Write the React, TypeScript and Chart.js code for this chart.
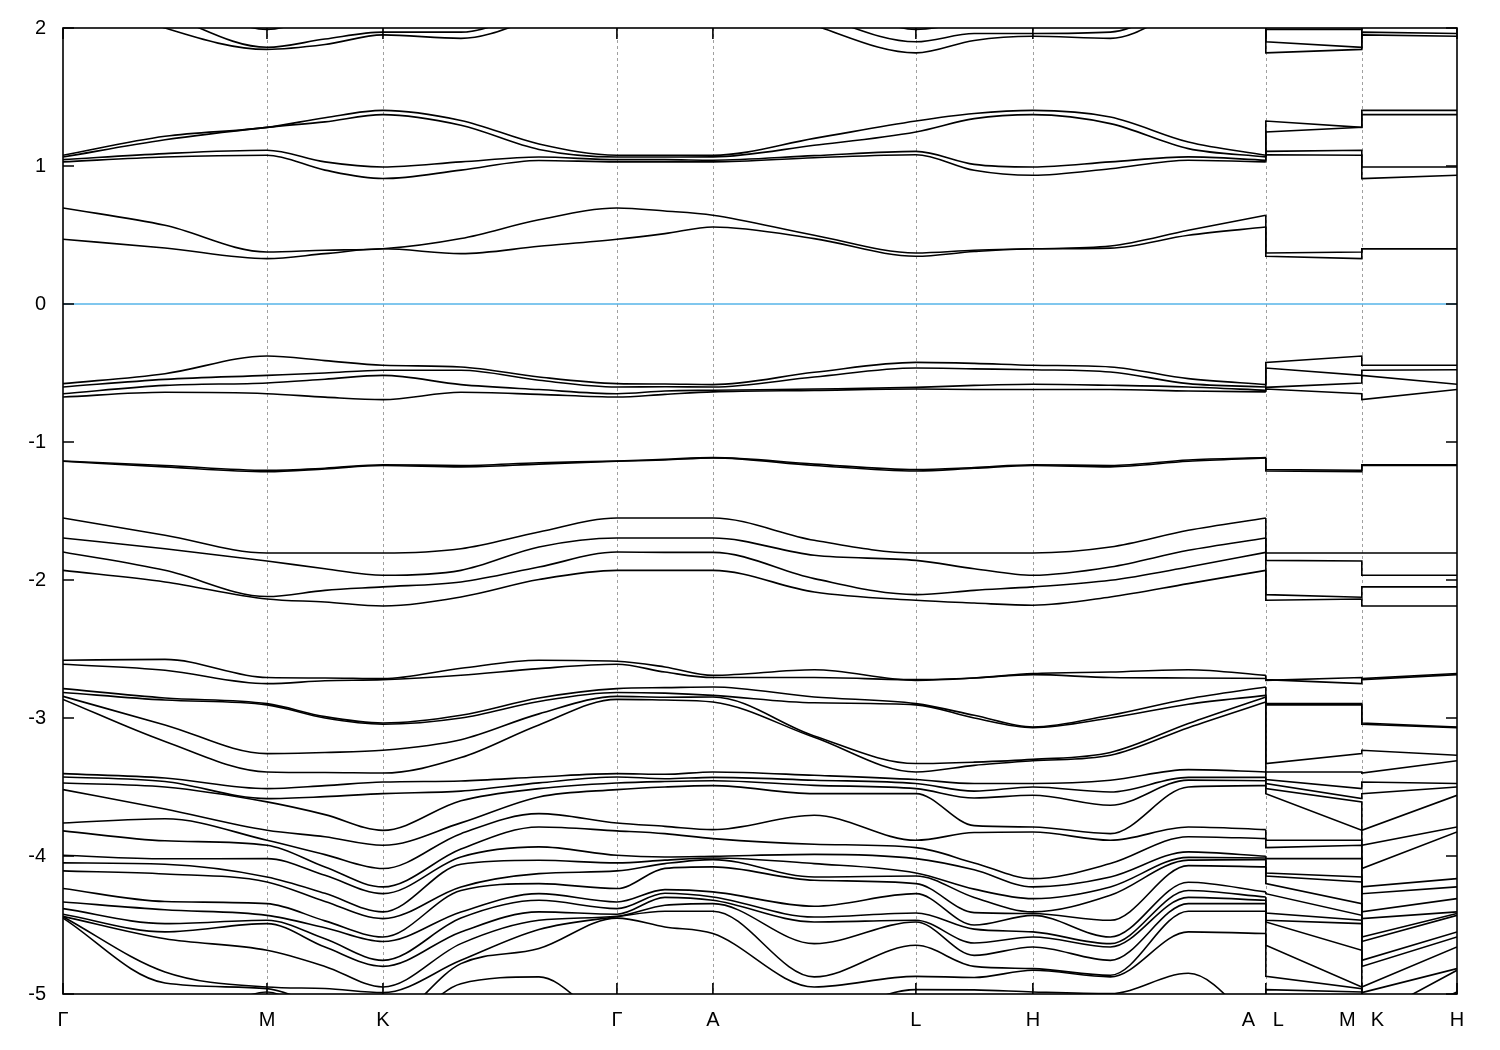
import React, { useEffect, useRef } from "react";
import { Chart, registerables } from "chart.js";

Chart.register(...registerables);

// k-path coordinate of each sampled node: Γ, ·, M, ·, K, ·, ·, Γ, ·, A, ·, L, ·, H, ·, ·, A | L, M | K, H
const K_PATH = [0, 102, 204, 262, 320, 398, 476, 554, 602, 650, 751.3, 853, 911.3, 970, 1047.5, 1125.5, 1203, 1203, 1299, 1299, 1394.2];
const SYMMETRY_LINES = [204, 320, 554, 650, 853, 970, 1203, 1299];
const FRAME_TICKS = [0, 204, 320, 554, 650, 853, 970, 1203, 1299, 1394.2];
const LABEL_POS = [0, 204, 320, 554, 650, 853, 970, 1185.5, 1215.5, 1284.5, 1314.5, 1394.2];
const LABEL_TEXT = ["Γ", "M", "K", "Γ", "A", "L", "H", "A", "L", "M", "K", "H"];
const Y_TICKS = [-5, -4, -3, -2, -1, 0, 1, 2];
const X_MAX = 1394.2;

// conduction bands (eV), one value per node
const BAND_T3 = [2.6, 2.3, 1.99, 2.1, 2.2, 2.3, 2.5, 2.6, 2.6, 2.6, 2.3, 1.99, 2.05, 2.1, 2.2, 2.4, 2.6, 1.99, 1.99, 2.2, 2.1];
const BAND_T2 = [2.35, 2.1, 1.86, 1.92, 1.97, 1.97, 2.15, 2.35, 2.4, 2.35, 2.1, 1.9, 1.96, 1.96, 1.97, 2.2, 2.35, 1.9, 1.86, 1.97, 1.96];
const BAND_T1 = [2.3, 2.0, 1.845, 1.88, 1.95, 1.925, 2.08, 2.3, 2.35, 2.3, 2.02, 1.82, 1.91, 1.94, 1.925, 2.15, 2.3, 1.82, 1.845, 1.95, 1.94];
const BAND_CA = [1.078, 1.215, 1.28, 1.35, 1.403, 1.33, 1.16, 1.078, 1.078, 1.078, 1.2, 1.326, 1.38, 1.403, 1.355, 1.174, 1.078, 1.326, 1.28, 1.403, 1.403];
const BAND_CB = [1.065, 1.19, 1.28, 1.32, 1.372, 1.295, 1.12, 1.065, 1.065, 1.066, 1.15, 1.247, 1.343, 1.372, 1.307, 1.126, 1.066, 1.247, 1.28, 1.372, 1.372];
const BAND_CC = [1.046, 1.09, 1.114, 1.03, 0.993, 1.03, 1.065, 1.046, 1.046, 1.042, 1.075, 1.106, 1.012, 0.993, 1.03, 1.066, 1.042, 1.106, 1.114, 0.993, 0.993];
const BAND_CD = [1.03, 1.065, 1.078, 0.97, 0.909, 0.97, 1.04, 1.03, 1.03, 1.03, 1.06, 1.082, 0.969, 0.933, 0.98, 1.042, 1.03, 1.082, 1.078, 0.909, 0.933];
const BAND_VA = [0.696, 0.57, 0.377, 0.39, 0.4, 0.474, 0.61, 0.696, 0.674, 0.643, 0.498, 0.37, 0.39, 0.4, 0.42, 0.534, 0.643, 0.37, 0.377, 0.4, 0.4];
const BAND_VB = [0.469, 0.406, 0.329, 0.365, 0.4, 0.365, 0.418, 0.469, 0.51, 0.558, 0.474, 0.346, 0.38, 0.4, 0.405, 0.498, 0.558, 0.346, 0.329, 0.4, 0.4];

// valence bands (eV)
const BAND_W1 = [-0.577, -0.505, -0.377, -0.41, -0.444, -0.456, -0.529, -0.577, -0.58, -0.584, -0.495, -0.423, -0.43, -0.444, -0.456, -0.541, -0.584, -0.423, -0.377, -0.444, -0.444];
const BAND_W2 = [-0.601, -0.546, -0.517, -0.5, -0.48, -0.48, -0.553, -0.601, -0.6, -0.601, -0.529, -0.464, -0.47, -0.476, -0.493, -0.577, -0.601, -0.464, -0.517, -0.48, -0.476];
const BAND_W3 = [-0.65, -0.59, -0.572, -0.545, -0.517, -0.584, -0.62, -0.65, -0.63, -0.625, -0.616, -0.604, -0.59, -0.582, -0.589, -0.601, -0.625, -0.604, -0.572, -0.517, -0.582];
const BAND_W4 = [-0.674, -0.64, -0.65, -0.675, -0.693, -0.64, -0.655, -0.674, -0.655, -0.637, -0.626, -0.616, -0.62, -0.62, -0.62, -0.63, -0.637, -0.616, -0.65, -0.693, -0.62];
const BAND_U1 = [-1.138, -1.17, -1.205, -1.19, -1.165, -1.17, -1.15, -1.138, -1.125, -1.113, -1.16, -1.2, -1.185, -1.165, -1.17, -1.13, -1.113, -1.2, -1.205, -1.165, -1.165];
const BAND_U2 = [-1.14, -1.18, -1.215, -1.195, -1.17, -1.18, -1.16, -1.14, -1.13, -1.115, -1.17, -1.21, -1.19, -1.17, -1.18, -1.14, -1.115, -1.21, -1.215, -1.17, -1.17];
const BAND_A1 = [-1.551, -1.676, -1.804, -1.804, -1.804, -1.773, -1.652, -1.551, -1.551, -1.551, -1.712, -1.804, -1.804, -1.804, -1.761, -1.64, -1.551, -1.804, -1.804, -1.804, -1.804];
const BAND_A2 = [-1.696, -1.773, -1.862, -1.918, -1.966, -1.93, -1.761, -1.696, -1.696, -1.696, -1.821, -1.858, -1.918, -1.966, -1.906, -1.785, -1.696, -1.858, -1.862, -1.966, -1.966];
const BAND_A3 = [-1.797, -1.93, -2.12, -2.075, -2.05, -2.014, -1.906, -1.797, -1.8, -1.8, -1.99, -2.106, -2.075, -2.05, -2.002, -1.906, -1.8, -2.106, -2.125, -2.05, -2.05];
const BAND_A4 = [-1.93, -2.014, -2.138, -2.159, -2.188, -2.123, -1.997, -1.93, -1.93, -1.93, -2.087, -2.147, -2.167, -2.183, -2.123, -2.026, -1.93, -2.147, -2.138, -2.188, -2.188];
const BAND_B1 = [-2.582, -2.575, -2.707, -2.71, -2.715, -2.64, -2.582, -2.589, -2.63, -2.691, -2.65, -2.727, -2.71, -2.678, -2.667, -2.65, -2.691, -2.727, -2.707, -2.715, -2.678];
const BAND_B2 = [-2.611, -2.654, -2.751, -2.73, -2.722, -2.69, -2.642, -2.611, -2.667, -2.707, -2.707, -2.722, -2.71, -2.686, -2.707, -2.71, -2.714, -2.722, -2.751, -2.722, -2.686];
const BAND_D1 = [-2.787, -2.855, -2.896, -2.99, -3.036, -2.98, -2.855, -2.787, -2.78, -2.775, -2.848, -2.896, -2.98, -3.065, -2.98, -2.86, -2.775, -2.896, -2.896, -3.036, -3.065];
const BAND_D2 = [-2.815, -2.87, -2.905, -3.0, -3.045, -3.0, -2.88, -2.815, -2.82, -2.836, -2.89, -2.905, -3.0, -3.07, -3.0, -2.9, -2.836, -2.905, -2.905, -3.045, -3.07];
const BAND_D3 = [-2.843, -3.05, -3.258, -3.25, -3.234, -3.157, -2.97, -2.843, -2.85, -2.848, -3.13, -3.33, -3.32, -3.3, -3.25, -3.04, -2.848, -3.33, -3.258, -3.234, -3.27];
const BAND_D4 = [-2.865, -3.17, -3.391, -3.395, -3.399, -3.287, -3.05, -2.865, -2.87, -2.884, -3.14, -3.391, -3.343, -3.31, -3.27, -3.07, -2.884, -3.391, -3.391, -3.399, -3.31];

// deep valence manifold: sorted eigenvalues (eV) at each sampled node
const DEEP_N0 = [-3.403, -3.427, -3.471, -3.519, -3.761, -3.818, -3.995, -4.05, -4.108, -4.236, -4.333, -4.381, -4.422, -4.437, -4.44, -4.45, -5.2, -5.4];
const DEEP_N1 = [-3.435, -3.46, -3.5, -3.66, -3.73, -3.89, -4.02, -4.06, -4.13, -4.33, -4.39, -4.49, -4.55, -4.6, -4.84, -4.92, -5.3, -5.5];
const DEEP_N2 = [-3.512, -3.584, -3.608, -3.814, -3.886, -3.922, -4.019, -4.152, -4.188, -4.345, -4.43, -4.466, -4.49, -4.683, -4.949, -4.961, -4.985, -5.3];
const DEEP_N3 = [-3.49, -3.57, -3.7, -3.86, -3.99, -4.08, -4.14, -4.27, -4.33, -4.47, -4.52, -4.6, -4.66, -4.8, -4.96, -5.1, -5.2, -5.35];
const DEEP_N4 = [-3.464, -3.548, -3.814, -3.922, -4.091, -4.224, -4.273, -4.405, -4.454, -4.587, -4.62, -4.756, -4.8, -4.949, -4.99, -5.2, -5.3, -5.4];
const DEEP_N5 = [-3.456, -3.53, -3.6, -3.76, -3.838, -3.95, -4.007, -4.06, -4.224, -4.25, -4.405, -4.45, -4.55, -4.635, -4.756, -4.78, -4.925, -5.3];
const DEEP_N6 = [-3.427, -3.47, -3.512, -3.572, -3.693, -3.79, -3.934, -4.031, -4.128, -4.2, -4.273, -4.321, -4.405, -4.466, -4.533, -4.671, -4.876, -5.3];
const DEEP_N8 = [-3.408, -3.44, -3.46, -3.5, -3.785, -3.838, -4.007, -4.03, -4.055, -4.09, -4.244, -4.27, -4.3, -4.357, -4.4, -4.514, -5.2, -5.4];
const DEEP_N9 = [-3.391, -3.43, -3.455, -3.49, -3.809, -3.874, -4.002, -4.014, -4.026, -4.079, -4.26, -4.297, -4.321, -4.345, -4.4, -4.562, -5.3, -5.5];
const DEEP_N10 = [-3.415, -3.451, -3.488, -3.548, -3.705, -3.915, -3.988, -4.055, -4.152, -4.176, -4.364, -4.442, -4.478, -4.635, -4.876, -4.949, -5.2, -5.4];
const DEEP_N11 = [-3.446, -3.475, -3.512, -3.548, -3.886, -3.939, -4.019, -4.123, -4.145, -4.2, -4.273, -4.413, -4.466, -4.478, -4.647, -4.872, -4.968, -5.3];
const DEEP_N12 = [-3.475, -3.53, -3.58, -3.78, -3.83, -4.05, -4.1, -4.24, -4.3, -4.41, -4.5, -4.53, -4.63, -4.72, -4.8, -4.88, -4.97, -5.3];
const DEEP_N13 = [-3.475, -3.5, -3.56, -3.79, -3.826, -4.164, -4.224, -4.309, -4.405, -4.417, -4.43, -4.55, -4.587, -4.659, -4.816, -4.828, -4.985, -5.3];
const DEEP_N14 = [-3.451, -3.536, -3.632, -3.838, -3.886, -4.055, -4.152, -4.224, -4.285, -4.466, -4.587, -4.635, -4.659, -4.756, -4.864, -4.876, -4.997, -5.3];
const DEEP_N15 = [-3.374, -3.43, -3.45, -3.5, -3.79, -3.86, -3.97, -4.01, -4.03, -4.07, -4.19, -4.25, -4.3, -4.345, -4.4, -4.55, -4.85, -5.2];

const UPPER_BANDS = [
  BAND_T3, BAND_T2, BAND_T1, BAND_CA, BAND_CB, BAND_CC, BAND_CD, BAND_VA, BAND_VB,
  BAND_W1, BAND_W2, BAND_W3, BAND_W4, BAND_U1, BAND_U2, BAND_A1, BAND_A2, BAND_A3, BAND_A4,
  BAND_B1, BAND_B2, BAND_D1, BAND_D2, BAND_D3, BAND_D4,
];
// node order along the path (Γ reused, A/L/M/K/H repeated after the path breaks)
const DEEP_NODES = [
  DEEP_N0, DEEP_N1, DEEP_N2, DEEP_N3, DEEP_N4, DEEP_N5, DEEP_N6, DEEP_N0, DEEP_N8, DEEP_N9,
  DEEP_N10, DEEP_N11, DEEP_N12, DEEP_N13, DEEP_N14, DEEP_N15, DEEP_N9, DEEP_N11, DEEP_N2, DEEP_N4, DEEP_N13,
];

const FONT = { family: "'Liberation Sans', Arial, sans-serif", size: 20 };

const framePlugin = {
  id: "bandFrame",
  beforeDatasetsDraw(chart: any) {
    const { ctx, chartArea, scales } = chart;
    const { top, bottom } = chartArea;
    ctx.save();
    ctx.strokeStyle = "#a0a0a0";
    ctx.lineWidth = 1;
    ctx.setLineDash([3, 3]);
    SYMMETRY_LINES.forEach((v) => {
      const px = Math.round(scales.x.getPixelForValue(v)) + 0.5;
      ctx.beginPath();
      ctx.moveTo(px, top);
      ctx.lineTo(px, bottom);
      ctx.stroke();
    });
    ctx.restore();
  },
  afterDatasetsDraw(chart: any) {
    const { ctx, chartArea, scales } = chart;
    const { left, right, top, bottom } = chartArea;
    ctx.save();
    ctx.strokeStyle = "#000";
    ctx.lineWidth = 1.6;
    ctx.setLineDash([]);
    ctx.strokeRect(left, top, right - left, bottom - top);
    const len = 11;
    ctx.beginPath();
    Y_TICKS.forEach((v) => {
      const py = scales.y.getPixelForValue(v);
      ctx.moveTo(left, py);
      ctx.lineTo(left + len, py);
      ctx.moveTo(right - len, py);
      ctx.lineTo(right, py);
    });
    FRAME_TICKS.forEach((v) => {
      const px = scales.x.getPixelForValue(v);
      ctx.moveTo(px, top);
      ctx.lineTo(px, top + len);
      ctx.moveTo(px, bottom - len);
      ctx.lineTo(px, bottom);
    });
    ctx.stroke();
    ctx.restore();
  },
};

function bandDatasets(values: number[]) {
  const pts = values.map((y, i) => ({ x: K_PATH[i], y }));
  const common = {
    borderColor: "#000000",
    borderWidth: 1.6,
    pointRadius: 0,
    fill: false,
  };
  return [
    { ...common, data: pts.slice(0, 17), cubicInterpolationMode: "monotone" },
    { ...common, data: pts.slice(16), tension: 0 },
  ];
}

export default function App() {
  const canvasRef = useRef<HTMLCanvasElement | null>(null);

  useEffect(() => {
    if (!canvasRef.current) return;
    const deepBands = DEEP_N0.map((_, i) => DEEP_NODES.map((node) => node[i]));
    const datasets: any[] = [
      {
        data: [
          { x: 0, y: 0 },
          { x: X_MAX, y: 0 },
        ],
        borderColor: "#56b4e9",
        borderWidth: 1.5,
        pointRadius: 0,
        fill: false,
      },
    ];
    [...UPPER_BANDS, ...deepBands].forEach((b) => datasets.push(...bandDatasets(b)));

    const chart = new Chart(canvasRef.current, {
      type: "line",
      data: { datasets },
      options: {
        animation: false,
        responsive: false,
        devicePixelRatio: 1,
        layout: { padding: { top: 28, right: 43, left: 0, bottom: 0 } },
        plugins: { legend: { display: false }, tooltip: { enabled: false } },
        elements: { point: { radius: 0 } },
        scales: {
          x: {
            type: "linear",
            min: 0,
            max: X_MAX,
            bounds: "data",
            grid: { display: false, drawTicks: false },
            border: { display: false },
            afterBuildTicks: (s: any) => {
              s.ticks = LABEL_POS.map((v) => ({ value: v }));
            },
            afterFit: (s: any) => {
              s.height = 56;
              s.paddingLeft = 0;
              s.paddingRight = 0;
            },
            ticks: {
              autoSkip: false,
              maxRotation: 0,
              minRotation: 0,
              padding: 14,
              color: "#000",
              font: FONT,
              callback: (_v: any, i: number) => LABEL_TEXT[i],
            },
          },
          y: {
            type: "linear",
            min: -5,
            max: 2,
            grid: { display: false, drawTicks: false },
            border: { display: false },
            afterFit: (s: any) => {
              s.width = 63;
              s.paddingTop = 0;
              s.paddingBottom = 0;
            },
            ticks: {
              stepSize: 1,
              padding: 17,
              color: "#000",
              font: FONT,
              callback: (v: any) => String(v),
            },
          },
        },
      } as any,
      plugins: [framePlugin],
    });
    return () => chart.destroy();
  }, []);

  return (
    <div style={{ position: "absolute", left: 0, top: 0, width: 1500, height: 1050, background: "#fff" }}>
      <canvas ref={canvasRef} width={1500} height={1050} style={{ display: "block" }} />
    </div>
  );
}
